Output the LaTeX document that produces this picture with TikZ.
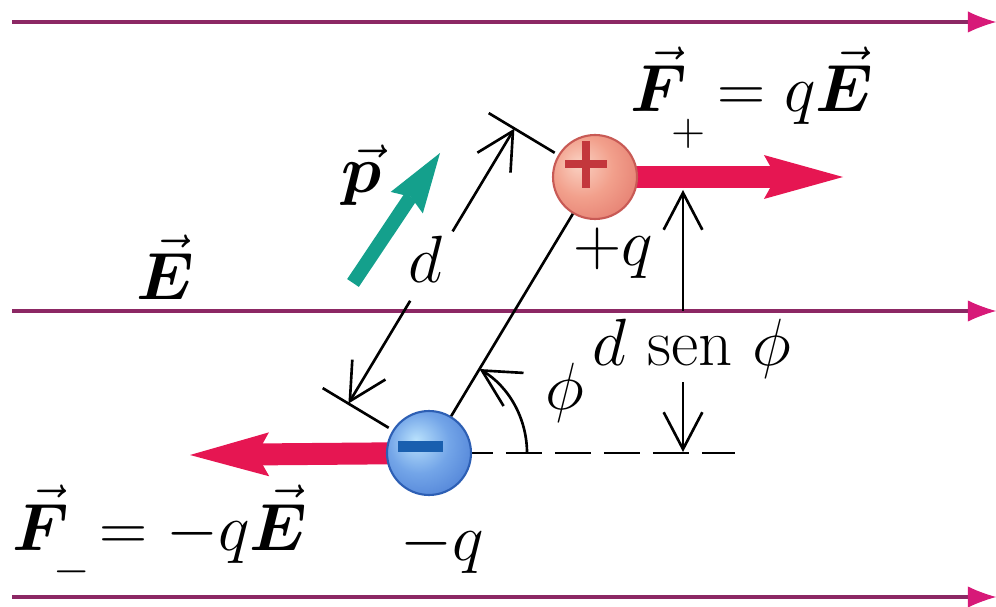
\documentclass[tikz,border=0pt]{standalone}
\usepackage{fix-cm}
\usepackage{bm}
\usetikzlibrary{arrows.meta,calc}
\definecolor{fieldc}{RGB}{140,40,100}
\definecolor{fieldtip}{RGB}{215,25,120}
\definecolor{forcec}{RGB}{230,22,82}
\definecolor{tealc}{RGB}{20,160,140}
\definecolor{posedge}{RGB}{200,90,85}
\definecolor{plusc}{RGB}{195,55,60}
\definecolor{negedge}{RGB}{45,95,180}
\definecolor{minusc}{RGB}{25,95,175}
\definecolor{posA}{RGB}{250,210,195}
\definecolor{posB}{RGB}{242,160,140}
\definecolor{posC}{RGB}{222,108,98}
\definecolor{negA}{RGB}{185,225,252}
\definecolor{negB}{RGB}{115,165,232}
\definecolor{negC}{RGB}{60,110,205}
\pgfdeclareradialshading{posshade}{\pgfpoint{-10bp}{8bp}}{color(0bp)=(posA); color(18bp)=(posB); color(44bp)=(posC); color(70bp)=(posC)}
\pgfdeclareradialshading{negshade}{\pgfpoint{-8bp}{8bp}}{color(0bp)=(negA); color(18bp)=(negB); color(44bp)=(negC); color(70bp)=(negC)}
\begin{document}
\begin{tikzpicture}[x=0.02cm,y=-0.02cm,
  lbl/.style={inner sep=0pt, font=\fontsize{38}{46}\selectfont},
  plainline/.style={line width=1.5pt},
  dimline/.style={line width=1.5pt, -{Straight Barb[length=21pt,width=22pt]}},
  fieldline/.style={line width=2.3pt, draw=fieldc, -{Latex[length=16pt,width=12pt,color=fieldtip,line width=0pt]}},
  forcearrow/.style={draw=forcec, line width=12.5pt, -{Stealth[length=45pt,width=25pt,inset=7pt,line width=0pt]}},
  charge/.style={circle, minimum size=1.68cm, inner sep=0pt, line width=1.2pt}]
\useasboundingbox (0,0) rectangle (996,607);
% field lines
\coordinate (f1s) at (12,22);  \coordinate (f1e) at (996,22);
\coordinate (f2s) at (12,311); \coordinate (f2e) at (996,311);
\coordinate (f3s) at (12,597); \coordinate (f3e) at (996,597);
\draw[fieldline] (f1s) -- (f1e);
\draw[fieldline] (f2s) -- (f2e);
\draw[fieldline] (f3s) -- (f3e);
% charge positions
\coordinate (negc) at (429,453);
\coordinate (posc) at (595,177);
% dashed reference line
\coordinate (dashend) at (735,453);
\draw[plainline, dash pattern=on 0.72cm off 0.26cm, dash phase=0.42cm] (negc) -- (dashend);
% force arrows
\coordinate (fpt) at (843,177);
\coordinate (fmt) at (190,455);
\draw[forcearrow] (posc) -- (fpt);
\draw[forcearrow] (negc) -- (fmt);
% charges
\node[charge, shading=posshade, draw=posedge] (pos) at (posc) {};
\node[charge, shading=negshade, draw=negedge] (neg) at (negc) {};
\draw[plusc, line width=5pt] ($(pos)+(-30,-13)$) -- ++(42,0);
\draw[plusc, line width=5pt] ($(pos)+(-9,-36)$) -- ++(0,47);
\draw[minusc, line width=6.8pt] ($(neg)+(-31,-6.5)$) -- ++(45,0);
% dipole axis
\draw[plainline] (neg) -- (pos);
% d dimension
\coordinate (nA) at (388.7,427.8); \coordinate (nB) at (322.7,388.1);
\coordinate (pA) at (554.7,152.8); \coordinate (pB) at (488.7,113.1);
\coordinate (dTop) at (514.4,128.6); \coordinate (dTopEnd) at (452.6,231.4);
\coordinate (dBot) at (348.4,403.6); \coordinate (dBotEnd) at (410.2,300.8);
\draw[plainline] (pA) -- (pB);
\draw[plainline] (nA) -- (nB);
\draw[dimline] (dTopEnd) -- (dTop);
\draw[dimline] (dBotEnd) -- (dBot);
% angle arc
\coordinate (arcs) at (527,453);
\draw[dimline] (arcs) arc[start angle=0, end angle=59, radius=1.96cm];
% d sen phi dimension
\coordinate (vtop) at (683,190); \coordinate (vmid) at (683,311);
\coordinate (vlow) at (683,382); \coordinate (vbot) at (683,452);
\draw[dimline] (vmid) -- (vtop);
\draw[dimline] (vlow) -- (vbot);
% dipole moment vector
\coordinate (ptail) at (353,283); \coordinate (phead) at (440,153);
\draw[draw=tealc, line width=8pt, -{Stealth[length=34pt,width=22pt,inset=4pt,line width=0pt]}] (ptail) -- (phead);
% labels
\node[lbl, anchor=base] (Fplus) at (752,112) {$\vec{\bm F}\rlap{\kern-9pt\raisebox{-19pt}{$\scriptstyle +$}}\kern7pt = q\vec{\bm E}$};
\node[lbl, anchor=base] (Fminus) at (160,550) {$\vec{\bm F}\rlap{\kern-9pt\raisebox{-19pt}{$\scriptstyle -$}}\kern7pt = -q\vec{\bm E}$};
\node[lbl, anchor=base] (Elbl) at (165,300) {$\vec{\bm E}$};
\node[lbl, anchor=base] (plbl) at (362,193) {$\vec{\bm p}$};
\node[lbl, anchor=base] (dlbl) at (425,283) {$d$};
\node[lbl, anchor=base] (pq) at (613,266) {$+q$};
\node[lbl, anchor=base] (dsen) at (692,365) {$d\ \mathrm{sen}\ \phi$};
\node[lbl, anchor=base] (phil) at (565,409) {$\phi$};
\node[lbl, anchor=base] (mq) at (442,560) {$-q$};
\end{tikzpicture}
\end{document}
